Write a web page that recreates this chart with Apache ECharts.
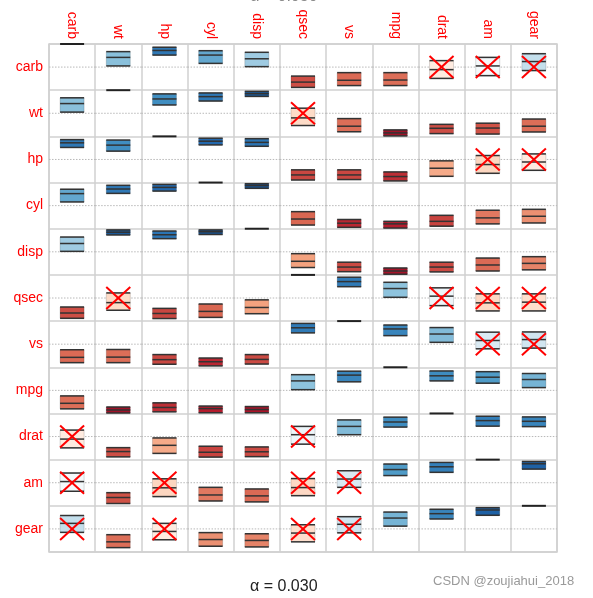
<!DOCTYPE html>
<html><head><meta charset="utf-8">
<script src="https://cdn.jsdelivr.net/npm/echarts@6/dist/echarts.min.js"></script>
<style>html,body{margin:0;padding:0;background:#fff}#c{width:593px;height:598px}</style>
</head><body><div id="c"></div>
<script>
// variable order (rows top->bottom, columns left->right)
const variables = ['carb','wt','hp','cyl','disp','qsec','vs','mpg','drat','am','gear'];

// upper triangle, row i holds values for columns j > i
const corrEstimate = [
  [0.42, 0.72, 0.52, 0.36, -0.65, -0.57, -0.56, -0.11, 0.05, 0.24],
  [0.62, 0.72, 0.85, -0.20, -0.56, -0.85, -0.65, -0.64, -0.56],
  [0.79, 0.74, -0.67, -0.67, -0.74, -0.38, -0.22, -0.11],
  [0.87, -0.58, -0.76, -0.79, -0.68, -0.53, -0.46],
  [-0.41, -0.66, -0.83, -0.66, -0.57, -0.50],
  [0.71, 0.41, 0.08, -0.21, -0.18],
  [0.66, 0.44, 0.16, 0.20],
  [0.63, 0.57, 0.47],
  [0.69, 0.66],
  [0.82]
];
const corrLower = [
  [0.05, 0.52, 0.16, 0.02, -0.88, -0.80, -0.80, -0.49, -0.37, -0.15],
  [0.36, 0.53, 0.73, -0.53, -0.80, -0.98, -0.88, -0.90, -0.81],
  [0.63, 0.57, -0.89, -0.87, -0.93, -0.73, -0.60, -0.47],
  [0.75, -0.84, -0.94, -0.97, -0.89, -0.79, -0.75],
  [-0.68, -0.86, -0.97, -0.87, -0.83, -0.78],
  [0.49, 0.03, -0.33, -0.56, -0.56],
  [0.37, 0.08, -0.20, -0.17],
  [0.41, 0.31, 0.12],
  [0.45, 0.43],
  [0.59]
];
const corrUpper = [
  [0.67, 0.86, 0.71, 0.64, -0.39, -0.24, -0.24, 0.28, 0.42, 0.58],
  [0.84, 0.88, 0.95, 0.22, -0.23, -0.72, -0.48, -0.43, -0.25],
  [0.92, 0.90, -0.45, -0.45, -0.54, -0.06, 0.17, 0.24],
  [0.95, -0.26, -0.60, -0.68, -0.42, -0.20, -0.16],
  [-0.08, -0.45, -0.70, -0.45, -0.27, -0.21],
  [0.90, 0.68, 0.44, 0.18, 0.18],
  [0.83, 0.72, 0.52, 0.53],
  [0.84, 0.81, 0.73],
  [0.88, 0.85],
  [0.92]
];
// pairs marked as not significant (red cross)
const notSignificant = [
  ['carb','drat'], ['carb','am'], ['carb','gear'], ['wt','qsec'],
  ['hp','am'], ['hp','gear'], ['qsec','drat'], ['qsec','am'], ['qsec','gear'],
  ['vs','am'], ['vs','gear']
];
const alphaLabel = 'α = 0.030';

const nsSet = new Set();
notSignificant.forEach(p => { nsSet.add(p[0] + '|' + p[1]); nsSet.add(p[1] + '|' + p[0]); });

function lookup(tbl, i, j) {
  const a = Math.min(i, j), b = Math.max(i, j);
  return tbl[a][b - a - 1];
}
const cells = [];
for (let i = 0; i < variables.length; i++) {
  for (let j = 0; j < variables.length; j++) {
    if (i === j) { cells.push([j, i, 1, 1, 1, 1, 0]); continue; }
    cells.push([j, i, lookup(corrEstimate, i, j), lookup(corrLower, i, j), lookup(corrUpper, i, j), 0,
      nsSet.has(variables[i] + '|' + variables[j]) ? 1 : 0]);
  }
}

const chart = echarts.init(document.getElementById('c'));
const gridColor = '#d0d0d0';
function renderCell(params, api) {
  const col = api.value(0), row = api.value(1);
  const r = api.value(2), lo = api.value(3), hi = api.value(4);
  const diag = api.value(5), ns = api.value(6);
  const c = api.coord([col, row]);
  const s = api.size([1, 1]);
  const half = s[1] / 2;
  const w = s[0] * 0.52;
  const x0 = c[0] - w / 2;
  const yOf = v => c[1] - v * half;
  const children = [];
  children.push({type: 'line', shape: {x1: c[0] - s[0] / 2, y1: c[1], x2: c[0] + s[0] / 2, y2: c[1]},
    style: {stroke: '#b8b8b8', lineWidth: 1, lineDash: [1.5, 1.5]}});
  if (diag) {
    children.push({type: 'line', shape: {x1: x0, y1: yOf(1), x2: x0 + w, y2: yOf(1)},
      style: {stroke: '#222', lineWidth: 2}});
  } else {
    children.push({type: 'rect', shape: {x: x0, y: yOf(hi), width: w, height: yOf(lo) - yOf(hi)},
      style: {fill: api.visual('color'), stroke: 'rgba(0,0,0,0.15)', lineWidth: 1}});
    [hi, r, lo].forEach(v => children.push({type: 'line',
      shape: {x1: x0, y1: yOf(v), x2: x0 + w, y2: yOf(v)},
      style: {stroke: '#333', lineWidth: 1.5}}));
    if (ns) {
      const hx = 12, hy = 11;
      children.push({type: 'line', shape: {x1: c[0] - hx, y1: c[1] - hy, x2: c[0] + hx, y2: c[1] + hy},
        style: {stroke: '#ff0000', lineWidth: 2}});
      children.push({type: 'line', shape: {x1: c[0] - hx, y1: c[1] + hy, x2: c[0] + hx, y2: c[1] - hy},
        style: {stroke: '#ff0000', lineWidth: 2}});
    }
  }
  return {type: 'group', children};
}

const labelStyle = {color: '#ff0000', fontSize: 14, fontFamily: 'Liberation Sans', interval: 0};
chart.setOption({
  animation: false,
  backgroundColor: '#fff',
  grid: {left: 49, top: 44, width: 508, height: 508, show: true, borderColor: gridColor, borderWidth: 1.5},
  xAxis: {type: 'category', data: variables, position: 'top', boundaryGap: true,
    axisLine: {show: false}, axisTick: {show: false},
    splitLine: {show: true, interval: 0, lineStyle: {color: gridColor, width: 1.5}},
    axisLabel: Object.assign({rotate: 90, margin: 5}, labelStyle)},
  yAxis: {type: 'category', data: variables, inverse: true, boundaryGap: true,
    axisLine: {show: false}, axisTick: {show: false},
    splitLine: {show: true, interval: 0, lineStyle: {color: gridColor, width: 1.5}},
    axisLabel: Object.assign({margin: 6}, labelStyle)},
  visualMap: {show: false, type: 'continuous', dimension: 2, min: -1, max: 1, seriesIndex: 0,
    inRange: {color: ['#67001F','#B2182B','#D6604D','#F4A582','#FDDBC7','#FFFFFF','#D1E5F0','#92C5DE','#4393C3','#2166AC','#053061']}},
  series: [{type: 'custom', renderItem: renderCell, data: cells, encode: {x: 0, y: 1}, clip: false}],
  graphic: [
    {type: 'text', left: 250, top: 579, style: {text: alphaLabel, fill: '#222', font: '16px "Liberation Sans"'}},
    {type: 'text', left: 250, top: -11, style: {text: alphaLabel, fill: '#888', font: '16px "Liberation Sans"'}},
    {type: 'text', left: 433, top: 575, style: {text: 'CSDN @zoujiahui_2018', fill: '#9a9a9a', font: '13px "Liberation Sans"'}}
  ]
});
</script></body></html>
